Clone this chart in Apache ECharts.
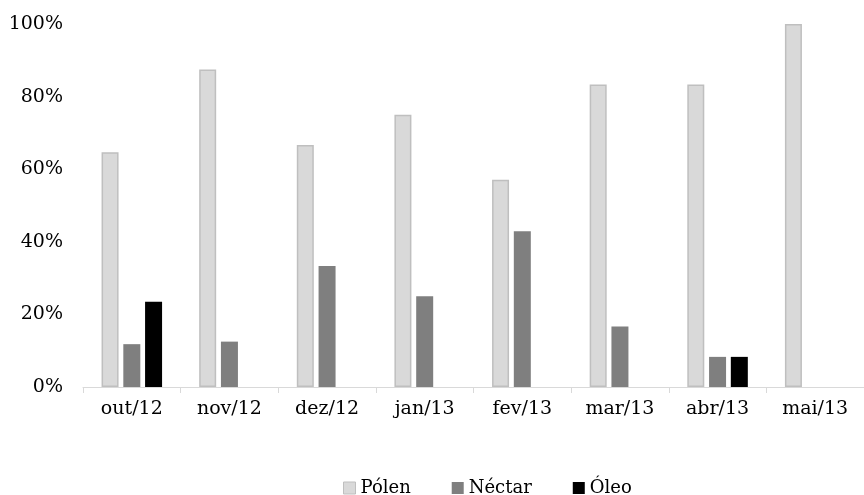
<!DOCTYPE html>
<html>
<head>
<meta charset="utf-8">
<script src="https://cdn.jsdelivr.net/npm/echarts@6/dist/echarts.min.js"></script>
<style>
  html, body { margin: 0; padding: 0; background: #ffffff; }
  #chart { width: 864px; height: 495px; }
</style>
</head>
<body>
<div id="chart"></div>
<script>
// Monthly share of collected resources (percent)
const months = ['out/12', 'nov/12', 'dez/12', 'jan/13', 'fev/13', 'mar/13', 'abr/13', 'mai/13'];
const polen  = [64.7, 87.5, 66.7, 75.0, 57.1, 83.3, 83.3, 100];
const nectar = [11.8, 12.5, 33.3, 25.0, 42.9, 16.7, 8.3, 0];
const oleo   = [23.5, 0, 0, 0, 0, 0, 8.3, 0];
const yTicks = [0, 20, 40, 60, 80, 100];

const font = 'DejaVu Serif';
const chart = echarts.init(document.getElementById('chart'), null, { renderer: 'canvas' });

function barSeries(name, data, fill, border) {
  return {
    name: name,
    type: 'bar',
    data: data,
    barWidth: 17,
    barGap: '28%',
    itemStyle: { color: fill, borderColor: border, borderWidth: border ? 1.5 : 0 },
    emphasis: { disabled: true }
  };
}

chart.setOption({
  animation: false,
  backgroundColor: '#ffffff',
  textStyle: { fontFamily: font },
  grid: { left: 83, right: -9, top: 24, bottom: 108, containLabel: false },
  legend: {
    left: 338,
    top: 474,
    itemWidth: 12,
    itemHeight: 12,
    itemGap: 41,
    icon: 'rect',
    textStyle: { fontFamily: font, fontSize: 18, color: '#000' },
    data: [
      { name: 'Pólen', itemStyle: { color: '#d9d9d9', borderColor: '#bfbfbf', borderWidth: 1 } },
      { name: 'Néctar', itemStyle: { color: '#7f7f7f' } },
      { name: 'Óleo', itemStyle: { color: '#000000' } }
    ]
  },
  xAxis: {
    type: 'category',
    data: months,
    axisLine: { lineStyle: { color: '#d9d9d9', width: 1 } },
    axisTick: { show: true, length: 6, lineStyle: { color: '#d9d9d9' } },
    axisLabel: { color: '#000', fontSize: 19, fontFamily: font, margin: 13 }
  },
  yAxis: {
    type: 'value',
    min: 0,
    max: 100,
    interval: 20,
    axisLine: { show: false },
    axisTick: { show: false },
    splitLine: { show: false },
    axisLabel: {
      color: '#000', fontSize: 19, fontFamily: font, margin: 20,
      formatter: v => yTicks.includes(v) ? v + '%' : ''
    }
  },
  series: [
    barSeries('Pólen', polen, '#d9d9d9', '#bfbfbf'),
    barSeries('Néctar', nectar, '#7f7f7f', null),
    barSeries('Óleo', oleo, '#000000', null)
  ]
});
</script>
</body>
</html>
